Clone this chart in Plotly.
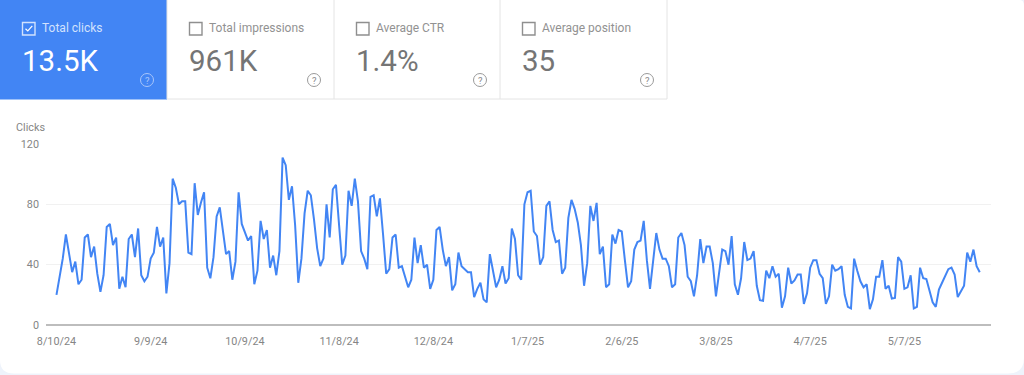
import pandas as pd
import plotly.graph_objects as go

start_date = "2024-08-10"
clicks = [
20,31,44,60,47,35,42,27,30,58,60,45,52,34,22,33,65,67,53,58,24,32,25,57,60,45,64,33,29,32,
44,48,65,52,58,21,41,97,91,80,82,82,48,47,94,73,81,88,38,31,45,72,78,64,47,49,30,42,88,67,
61,56,59,27,36,69,57,63,38,46,33,49,111,106,83,92,66,28,44,74,89,86,70,51,39,44,80,58,90,93,
66,40,46,89,79,97,82,49,44,37,85,86,72,84,60,34,37,58,60,38,39,32,25,30,58,41,53,38,40,24,
30,63,65,50,39,45,23,27,48,39,37,35,35,18.5,24,28,17,15,47,35,25,30,39,27.5,31,64,57,33,30,80,
88,89,62,59,40,45,79,82,63,55,56,34,38,71,83,77,68,53,26,41,79,69,81,47,52,25,27,60,54,63,
62,43,25,29,50,55,56,69,43,24,43,61,50,44,44,39,25,27,58,61,53,32,29,19,33,57,41,52,52,41,
19,35,50,49,40,59,27,20,31,55,43,44,49,26,16.5,16,36,31,39,32,34,11.5,19,38,27.5,29.5,33.5,33.5,14,21,
38,43,43,34,31,14,19,40,36,37,39,20,12,11,44,36,29,25,27,10.5,17,32,32,43,24,26,17.5,18,45,42,
24,25,33,11,12,38,31,30.5,22.5,15,12,23.5,28,32,37,38,33.5,18.5,22.5,26,48,42,50,39,35,
]
dates = pd.date_range(start_date, periods=len(clicks), freq="D")
tick_dates = ["2024-08-10","2024-09-09","2024-10-09","2024-11-08","2024-12-08","2025-01-07",
              "2025-02-06","2025-03-08","2025-04-07","2025-05-07"]
tick_labels = ["8/10/24","9/9/24","10/9/24","11/8/24","12/8/24","1/7/25","2/6/25","3/8/25","4/7/25","5/7/25"]
y_ticks = [0, 40, 80, 120]
card_titles = ["Total clicks","Total impressions","Average CTR","Average position"]
card_values = ["13.5K","961K","1.4%","35"]
card_left = [0, 167, 334, 500]
card_right = [167, 334, 500, 667]

W, H = 1024, 375
BLUE = "#4285f4"
FONT = "Roboto"
def px(x): return x / W
def py(y): return 1 - y / H

shapes, ann = [], []
def rect(x0, y0, x1, y1, fill=None, line=None, lw=1, layer="above"):
    shapes.append(dict(type="rect", xref="paper", yref="paper", x0=px(x0), x1=px(x1), y0=py(y1), y1=py(y0),
                       fillcolor=fill or "rgba(0,0,0,0)", line=dict(color=line or "rgba(0,0,0,0)", width=lw if line else 0), layer=layer))
def text(x, y, s, size, color, anchor="left"):
    ann.append(dict(xref="paper", yref="paper", x=px(x), y=py(y), text=s, showarrow=False,
                    xanchor=anchor, yanchor="middle", font=dict(family=FONT, size=size, color=color)))

# white panel with rounded corners on a pale page
P = lambda x, y: f"{px(x)} {py(y)}"
shapes.append(dict(type="path", xref="paper", yref="paper", layer="below", fillcolor="#ffffff", line=dict(width=0),
                   path=f"M {P(0,0)} L {P(1020,0)} Q {P(1024,0)} {P(1024,6)} L {P(1024,358)} Q {P(1024,373.5)} {P(1008,373.5)} "
                        f"L {P(14,373.5)} Q {P(0,373.5)} {P(0,360)} Z"))

rect(0, 0, 167, 99.5, fill=BLUE)
rect(167, -2, 667, 99, line="#e4e4e4")
for cx in (334, 500):
    shapes.append(dict(type="line", xref="paper", yref="paper", x0=px(cx), x1=px(cx), y0=py(99), y1=1,
                       line=dict(color="#e4e4e4", width=1)))
for i, (t, v, l, r) in enumerate(zip(card_titles, card_values, card_left, card_right)):
    on = i == 0
    tc = "#d2e2fd" if on else "#929292"
    vc = "#ffffff" if on else "#757575"
    ic = "#d2e2fd" if on else "#8f8f8f"
    bx = l + 22.5
    rect(bx, 22.5, bx + 12.5, 35, line=ic, lw=1.4)
    if on:
        shapes.append(dict(type="path", xref="paper", yref="paper",
                           path=f"M {P(bx+3,28.8)} L {P(bx+5.3,31)} L {P(bx+9.8,25.8)}",
                           line=dict(color="#ffffff", width=1.2)))
    text(l + 39.5, 28, t, 12, tc)
    text(l + 19.5, 60.5, v, 29.5, vc)
    q = r - 20
    shapes.append(dict(type="circle", xref="paper", yref="paper", x0=px(q-6.5), x1=px(q+6.5), y0=py(86.5), y1=py(73.5),
                       line=dict(color="#a9c6fa" if on else "#9a9a9a", width=1)))
    text(q, 80, "?", 9.5, "#a9c6fa" if on else "#8a8a8a", "center")

text(13.5, 128, "Clicks", 10.8, "#858585")

fig = go.Figure(go.Scatter(x=dates, y=clicks, mode="lines", line=dict(color=BLUE, width=2), hoverinfo="skip"))
fig.update_layout(
    width=W, height=H, margin=dict(l=0, r=0, t=0, b=0, pad=0), autosize=False,
    paper_bgcolor="#eef3fb", plot_bgcolor="rgba(0,0,0,0)", showlegend=False,
    shapes=shapes, annotations=ann, font=dict(family=FONT, color="#858585"),
    xaxis=dict(domain=[px(46), px(991)], type="date", range=["2024-08-06 16:00", "2025-06-03 14:00"],
               automargin=False,
               tickmode="array", tickvals=tick_dates, ticktext=tick_labels,
               showgrid=False, zeroline=False, showline=False, ticks="", ticklabelstandoff=8,
               tickfont=dict(size=10.8, color="#858585", family=FONT)),
    yaxis=dict(domain=[py(325), py(144)], range=[0, 120], tickmode="array", tickvals=y_ticks,
               automargin=False,
               ticktext=[str(v) for v in y_ticks], showgrid=True, gridcolor="#f1f1f1", gridwidth=1,
               zeroline=True, zerolinecolor="#bdbdbd", zerolinewidth=1.5, showline=False, ticks="",
               ticklabelstandoff=6, tickfont=dict(size=10.8, color="#858585", family=FONT)),
)
fig.write_html("out.html", config=dict(displayModeBar=False),
               post_script="document.body.style.margin='0';document.body.style.overflow='hidden';")
